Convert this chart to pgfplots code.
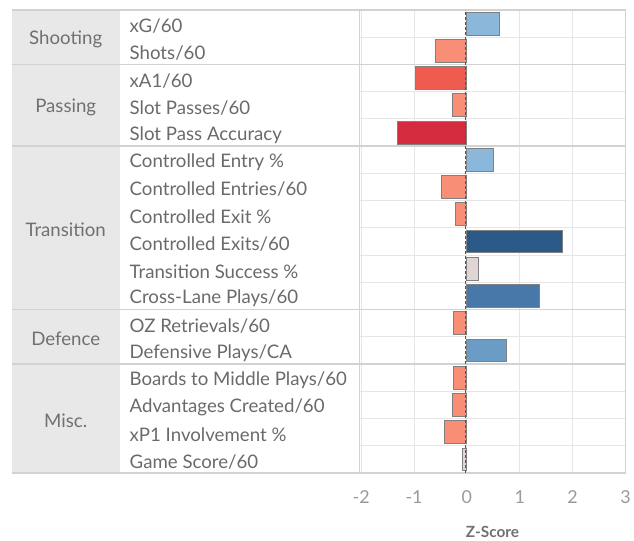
\documentclass[border=0pt]{standalone}
\usepackage{pgfplots}
\pgfplotsset{compat=1.18}
\usepackage{fontspec}
\setmainfont{Lato}
\definecolor{labeltext}{HTML}{6A6A6A}
\definecolor{grouptext}{HTML}{707070}
\definecolor{tickgray}{HTML}{9A9A9A}
\definecolor{gridgray}{HTML}{E6E6E6}
\definecolor{sepgray}{HTML}{D2D2D2}
\definecolor{groupfill}{HTML}{E8E8E8}
\definecolor{bargray}{HTML}{808080}
\definecolor{zeroline}{HTML}{555555}
\definecolor{lblue}{HTML}{8BB7DB}
\definecolor{mblue}{HTML}{6A9CC5}
\definecolor{sblue}{HTML}{4877A9}
\definecolor{dblue}{HTML}{2B5A88}
\definecolor{salmon}{HTML}{F88E76}
\definecolor{lred}{HTML}{EF5B4E}
\definecolor{dred}{HTML}{D42B3E}
\definecolor{neutral}{HTML}{E0D5D3}
\newcommand{\rowlab}[2]{\node[anchor=west, text=labeltext, font=\fontsize{18.8}{19}\selectfont, inner sep=0pt] at ([xshift=-231bp,yshift=-2.5bp]axis cs:-2.03,#2) {#1};}
\newcommand{\grplab}[2]{\node[anchor=center, text=grouptext, font=\fontsize{18.8}{19}\selectfont, inner sep=0pt] at ([xshift=-295bp,yshift=-2bp]axis cs:-2.03,#2) {#1};}
\newcommand{\sepline}[1]{\draw[sepgray, line width=1.6bp] ([xshift=-349bp]axis cs:-2.03,#1) -- (axis cs:3,#1);}
\begin{document}
\begin{tikzpicture}
\begin{axis}[
  scale only axis, width=267bp, height=465bp,
  xmin=-2.03, xmax=3, ymin=-0.5, ymax=16.5,
  clip=false,
  axis line style={draw=sepgray, line width=1bp},
  xtick={-2,-1,0,1,2,3}, xticklabels={-2,-1,0,1,2,3},
  xmajorgrids, ymajorgrids,
  major grid style={draw=gridgray, line width=1bp},
  ytick={0.5,1.5,...,15.5}, yticklabels={},
  ytick style={draw=none},
  xtick style={draw=gridgray, line width=1bp},
  major tick length=4bp, tick pos=bottom,
  xticklabel style={text=tickgray, font=\fontsize{18}{18}\selectfont, yshift=-14bp},
  xlabel={\textbf{Z-Score}},
  xlabel style={at={(axis description cs:0.5,0)}, anchor=center, yshift=-59bp, text=grouptext, font=\fontsize{15.5}{16}\selectfont},
  mybar/.style={xbar, bar width=23bp, bar shift=0pt, draw=bargray, line width=1bp},
]
% left table background
\fill[groupfill] ([xshift=-349bp]axis cs:-2.03,16.5) rectangle ([xshift=-241bp]axis cs:-2.03,-0.5);
% group separators and borders
\sepline{16.5}
\sepline{14.5}
\sepline{11.5}
\sepline{5.5}
\sepline{3.5}
\sepline{-0.5}
% bars (row 1 at y=16 ... row 17 at y=0)
\addplot[mybar, fill=lblue]   coordinates {(0.61,16)};
\addplot[mybar, fill=salmon]  coordinates {(-0.59,15)};
\addplot[mybar, fill=lred]    coordinates {(-0.98,14)};
\addplot[mybar, fill=salmon]  coordinates {(-0.27,13)};
\addplot[mybar, fill=dred]    coordinates {(-1.31,12)};
\addplot[mybar, fill=lblue]   coordinates {(0.51,11)};
\addplot[mybar, fill=salmon]  coordinates {(-0.48,10)};
\addplot[mybar, fill=salmon]  coordinates {(-0.22,9)};
\addplot[mybar, fill=dblue]   coordinates {(1.80,8)};
\addplot[mybar, fill=neutral] coordinates {(0.22,7)};
\addplot[mybar, fill=sblue]   coordinates {(1.37,6)};
\addplot[mybar, fill=salmon]  coordinates {(-0.25,5)};
\addplot[mybar, fill=mblue]   coordinates {(0.74,4)};
\addplot[mybar, fill=salmon]  coordinates {(-0.25,3)};
\addplot[mybar, fill=salmon]  coordinates {(-0.28,2)};
\addplot[mybar, fill=salmon]  coordinates {(-0.43,1)};
\addplot[mybar, fill=neutral] coordinates {(-0.09,0)};
% zero line
\addplot[zeroline, dash pattern=on 3bp off 2bp, line width=1.5bp, sharp plot, xshift=-1.5bp] coordinates {(0,-0.5) (0,16.5)};
% row labels
\rowlab{xG/60}{16}
\rowlab{Shots/60}{15}
\rowlab{xA1/60}{14}
\rowlab{Slot Passes/60}{13}
\rowlab{Slot Pass Accuracy}{12}
\rowlab{Controlled Entry \%}{11}
\rowlab{Controlled Entries/60}{10}
\rowlab{Controlled Exit \%}{9}
\rowlab{Controlled Exits/60}{8}
\rowlab{Transition Success \%}{7}
\rowlab{Cross-Lane Plays/60}{6}
\rowlab{OZ Retrievals/60}{5}
\rowlab{Defensive Plays/CA}{4}
\rowlab{Boards to Middle Plays/60}{3}
\rowlab{Advantages Created/60}{2}
\rowlab{xP1 Involvement \%}{1}
\rowlab{Game Score/60}{0}
% group labels
\grplab{Shooting}{15.5}
\grplab{Passing}{13}
\grplab{Transition}{8.5}
\grplab{Defence}{4.5}
\grplab{Misc.}{1.5}
% page frame
\path ([xshift=-361bp,yshift=-62bp]axis cs:-2.03,-0.5) rectangle ([xshift=6bp,yshift=10bp]axis cs:3,16.5);
\end{axis}
\end{tikzpicture}
\end{document}
